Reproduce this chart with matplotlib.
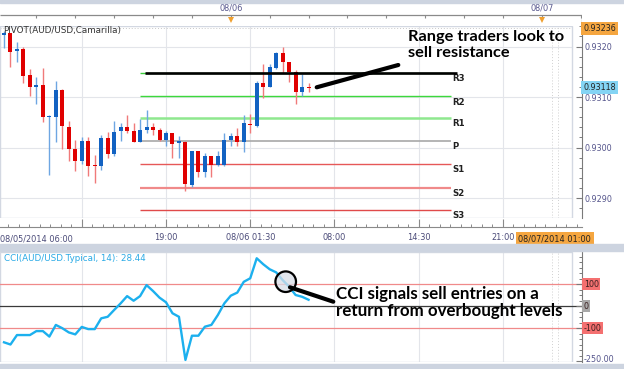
import numpy as np
import pandas as pd
import matplotlib
matplotlib.use("Agg")
import matplotlib.pyplot as plt
import matplotlib.dates as mdates
import matplotlib.transforms as mtransforms
from matplotlib.patches import Rectangle, Circle
from matplotlib.ticker import FixedLocator, MultipleLocator, NullFormatter

# ---------------- data ----------------
start_time = "2014-08-05 06:30"   # 30-minute candles
opens = [0.93223, 0.93226, 0.93191, 0.93196, 0.93144, 0.93119, 0.93124, 0.93061,
         0.93060, 0.93114, 0.93041, 0.92997, 0.92973, 0.93013, 0.92965, 0.92963,
         0.93018, 0.92987, 0.93032, 0.93040, 0.93033, 0.93011, 0.93034, 0.93040,
         0.93034, 0.93015, 0.93028, 0.93008, 0.93011, 0.92926, 0.92994, 0.92952,
         0.92983, 0.92965, 0.92965, 0.93015, 0.93023, 0.93010, 0.93047, 0.93043,
         0.93128, 0.93120, 0.93157, 0.93188, 0.93169, 0.93150, 0.93110, 0.93120]
highs = [0.93231, 0.93227, 0.93209, 0.93199, 0.93155, 0.93140, 0.93157, 0.93064,
         0.93132, 0.93116, 0.93052, 0.93015, 0.93021, 0.93021, 0.92985, 0.93025,
         0.93031, 0.93053, 0.93049, 0.93064, 0.93049, 0.93056, 0.93074, 0.93048,
         0.93038, 0.93033, 0.93029, 0.93023, 0.93012, 0.92994, 0.92994, 0.92989,
         0.92983, 0.92994, 0.93028, 0.93028, 0.93038, 0.93064, 0.93067, 0.93132,
         0.93166, 0.93166, 0.93190, 0.93200, 0.93170, 0.93153, 0.93146, 0.93127]
lows = [0.93197, 0.93159, 0.93169, 0.93128, 0.93102, 0.93086, 0.93051, 0.92946,
        0.93011, 0.92997, 0.92973, 0.92953, 0.92967, 0.92944, 0.92930, 0.92955,
        0.92979, 0.92983, 0.93012, 0.93028, 0.93011, 0.93010, 0.93028, 0.93025,
        0.93012, 0.93002, 0.92979, 0.92979, 0.92913, 0.92921, 0.92941, 0.92942,
        0.92942, 0.92964, 0.92964, 0.93002, 0.93002, 0.92992, 0.93028, 0.93041,
        0.93098, 0.93119, 0.93156, 0.93148, 0.93130, 0.93087, 0.93101, 0.93110]
closes = [0.93226, 0.93189, 0.93196, 0.93142, 0.93120, 0.93124, 0.93061, 0.93063,
          0.93114, 0.93043, 0.92997, 0.92973, 0.93013, 0.92963, 0.92963, 0.93018,
          0.92987, 0.93031, 0.93040, 0.93032, 0.93011, 0.93034, 0.93040, 0.93034,
          0.93014, 0.93028, 0.93007, 0.93012, 0.92928, 0.92994, 0.92952, 0.92983,
          0.92965, 0.92983, 0.93015, 0.93023, 0.93010, 0.93048, 0.93044, 0.93128,
          0.93119, 0.93160, 0.93188, 0.93169, 0.93150, 0.93110, 0.93120, 0.93118]
cci = [-165, -175, -132, -132, -132, -114, -114, -139,
       -86, -101, -120, -129, -95, -105, -105, -56,
       -49, -18, 12, 45, 24, 45, 95, 68,
       38, 17, -33, -49, -245, -135, -135, -94,
       -86, -41, 12, 47, 61, 110, 126, 217,
       190, 167, 153, 118, 88, 50, 42, 28.44]

pivot_names = ["R3", "R2", "R1", "P", "S1", "S2", "S3"]
pivot_values = [0.93147, 0.93101, 0.93058, 0.93012, 0.92967, 0.92920, 0.92876]
pivot_start = "2014-08-05 17:00"
pivot_end = "2014-08-06 17:00"

price_ticks = [0.9290, 0.9300, 0.9310, 0.9320]
time_tick_times = ["2014-08-05 06:00", "2014-08-05 12:30", "2014-08-05 19:00",
                   "2014-08-06 01:30", "2014-08-06 08:00", "2014-08-06 14:30",
                   "2014-08-06 21:00"]
time_tick_labels = ["08/05/2014 06:00", "", "19:00", "08/06 01:30", "08:00",
                    "14:30", "21:00"]
day_times = ["2014-08-06 00:00", "2014-08-07 00:00"]
day_labels = ["08/06", "08/07"]
last_price = 0.93118
cursor_price = 0.93236
cursor_time = "2014-08-07 01:00"
cursor_label = "08/07/2014 01:00"
cci_levels = [100, 0, -100]
cci_level_labels = ["100", "0", "-100"]
cci_min = -250
cci_min_label = "-250.00"

pivot_title = "PIVOT(AUD/USD,Camarilla)"
cci_title = "CCI(AUD/USD.Typical, 14): 28.44"
note_top = "Range traders look to\nsell resistance"
note_bottom = "CCI signals sell entries on a\nreturn from overbought levels"

# ---------------- layout helpers ----------------
W, H = 624, 369
fig = plt.figure(figsize=(W / 100, H / 100), dpi=100)
fig.patch.set_facecolor("white")


def rect(x0, y0, x1, y1):
    return [x0 / W, 1 - y1 / H, (x1 - x0) / W, (y1 - y0) / H]


def tnum(s):
    return mdates.date2num(pd.Timestamp(s))


XL = tnum("2014-08-05 06:11:28")
XR = tnum("2014-08-07 03:04:34")
PX_DAY = 581.7 / (XR - XL)          # pixels per day
FRAME_FRAC = 572 / 581.7

times = pd.date_range(start_time, periods=len(opens), freq="30min")
xs = mdates.date2num(times.to_pydatetime())

UP_BODY, DN_BODY = "#1262c2", "#e00000"
UP_WICK, DN_WICK = "#6ea6e2", "#f07a7a"
GRID = "#e3e5ea"
AXIS_TXT = "#55558c"
grid_x = [tnum(t) for t in time_tick_times]

# ---------------- background bands ----------------
for (y0, y1) in [(0, 3), (244, 251), (364, 369)]:
    fig.patches.append(Rectangle((0, 1 - y1 / H), 1, (y1 - y0) / H,
                                 transform=fig.transFigure, color="#cdd4e0",
                                 zorder=0))

# ---------------- main price panel ----------------
ax = fig.add_axes(rect(0, 26, 581.7, 218))
ax.set_xlim(XL, XR)
ax.set_ylim(0.928604, 0.932406)
for s in ["left", "top"]:
    ax.spines[s].set_visible(False)
ax.spines["right"].set_color("#7a7a7a")
ax.spines["bottom"].set_position(("outward", 6.5))
ax.spines["bottom"].set_color("#8a8a8a")

ax.xaxis.set_major_locator(FixedLocator(grid_x))
ax.set_xticklabels(time_tick_labels)
ax.xaxis.set_minor_locator(FixedLocator(
    np.arange(grid_x[0], XR, 48.75 / 1440)))
ax.tick_params(axis="x", which="major", direction="in", length=6, width=0.8,
               color="#8a8a8a", labelsize=5.9, labelcolor="#4a4a78", pad=4)
ax.tick_params(axis="x", which="minor", direction="in", length=2.2, width=0.7,
               color="#8a8a8a")
ax.text(0.0, -0.107, time_tick_labels[0], transform=ax.transAxes, ha="left",
        va="center", fontsize=5.9, color="#4a4a78", clip_on=False)

ax.yaxis.tick_right()
ax.yaxis.set_major_locator(FixedLocator(price_ticks))
ax.yaxis.set_major_formatter(matplotlib.ticker.FormatStrFormatter("%.4f"))
ax.yaxis.set_minor_locator(MultipleLocator(0.0002))
ax.tick_params(axis="y", which="major", direction="in", length=4, width=0.8,
               color="#7a7a7a", labelsize=5.8, labelcolor=AXIS_TXT, pad=2)
ax.tick_params(axis="y", which="minor", direction="in", length=2.5, width=0.7,
               color="#7a7a7a")

for p in price_ticks:
    ax.axhline(p, xmax=FRAME_FRAC, color=GRID, lw=0.8, zorder=0)
for g in grid_x:
    ax.axvline(g, color=GRID, lw=0.8, zorder=0)
ax.add_patch(Rectangle((0, 0), FRAME_FRAC, 1, transform=ax.transAxes,
                       fill=False, edgecolor="#d3d8e2", lw=1, zorder=1))

# cursor (crosshair) lines
ax.axhline(cursor_price, xmax=FRAME_FRAC, color="#c8c8c8", lw=0.7,
           ls=(0, (1, 2)), zorder=0)
ct = tnum(cursor_time)
for off in (-3, 3):
    ax.axvline(ct + off / PX_DAY, color="#d0d0d0", lw=0.7, ls=(0, (1, 2)),
               zorder=0)

# pivot lines
pivot_colors = ["#3ccc3c", "#3cd83c", "#8fe88f", "#a8a8a8", "#e65858",
                "#f08a8a", "#e04a4a"]
pivot_widths = [1.0, 1.0, 1.8, 1.2, 1.0, 1.6, 1.0]
ps, pe = tnum(pivot_start), tnum(pivot_end)
for v, c, w, n in zip(pivot_values, pivot_colors, pivot_widths, pivot_names):
    ax.hlines(v, ps, pe, colors=c, lw=w, zorder=2)
    ax.text(pe + 1 / PX_DAY, v - 0.00002, n, ha="left", va="top",
            fontsize=6.2, fontweight="bold", color="#202020", clip_on=True)
# drawn resistance line over R3
ax.hlines(pivot_values[0], ps + 5 / PX_DAY, pe + 6 / PX_DAY, colors="black",
          lw=1.9, zorder=5)

# candles
bw = 4.0 / PX_DAY
for x, o, h, l, c in zip(xs, opens, highs, lows, closes):
    up = c >= o
    ax.vlines(x, l, h, color=UP_WICK if up else DN_WICK, lw=1.0, zorder=3)
    height = max(abs(c - o), 0.000022)
    ax.bar(x, height, bottom=min(o, c), width=bw,
           color=UP_BODY if up else DN_BODY, zorder=4, linewidth=0)

btrans = mtransforms.blended_transform_factory(ax.transAxes, ax.transData)
ax.text(1.0 + 1.5 / 581.7, cursor_price, f"{cursor_price:.5f}", transform=btrans,
        ha="left", va="center", fontsize=5.8, color="#222222", clip_on=False,
        bbox=dict(boxstyle="square,pad=0.25", fc="#f5a640", ec="none"))
ax.text(1.0 + 1.5 / 581.7, last_price, f"{last_price:.5f}", transform=btrans,
        ha="left", va="center", fontsize=5.8, color="#222222", clip_on=False,
        bbox=dict(boxstyle="square,pad=0.25", fc="#84d4f4", ec="none"))
xtrans = mtransforms.blended_transform_factory(ax.transData, ax.transAxes)
ax.text(ct, -0.107, cursor_label, transform=xtrans, ha="center", va="center",
        fontsize=5.9, color="#222222", clip_on=False,
        bbox=dict(boxstyle="square,pad=0.3", fc="#f5a640", ec="none"))

# ---------------- top time strip ----------------
tax = fig.add_axes(rect(0, 0, 581.7, 26))
tax.set_xlim(XL, XR)
tax.set_ylim(26, 0)
tax.axis("off")
tax.hlines(15, XL, XR, color="#8a8a8a", lw=0.9)
tax.vlines(XR, 15, 26, color="#8a8a8a", lw=0.9)
top_ticks = np.arange(tnum("2014-08-05 06:00"), XR, 3 / 24)
tax.vlines(top_ticks, 15, 18, color="#8a8a8a", lw=0.8)
for t, lab in zip(day_times, day_labels):
    tax.text(tnum(t), 8, lab, ha="center", va="center", fontsize=5.9,
             color=AXIS_TXT)
    tax.plot(tnum(t), 19.5, marker="v", color="#f0a030", markersize=5,
             markeredgewidth=0)

# ---------------- CCI panel ----------------
cx = fig.add_axes(rect(0, 252, 581.7, 362))
cx.set_xlim(XL, XR)
cx.set_ylim(-254.5, 245.5)
for s in ["left", "top", "bottom"]:
    cx.spines[s].set_visible(False)
cx.spines["right"].set_color("#7a7a7a")
cx.tick_params(axis="x", which="both", bottom=False, labelbottom=False)
cx.yaxis.tick_right()
cx.yaxis.set_major_locator(FixedLocator(cci_levels + [cci_min]))
cx.yaxis.set_minor_locator(MultipleLocator(25))
cx.yaxis.set_major_formatter(NullFormatter())
cx.tick_params(axis="y", which="major", direction="in", length=4, width=0.8,
               color="#7a7a7a")
cx.tick_params(axis="y", which="minor", direction="in", length=2.5, width=0.7,
               color="#7a7a7a")
for g in grid_x:
    cx.axvline(g, color=GRID, lw=0.8, zorder=0)
for off in (-3, 3):
    cx.axvline(ct + off / PX_DAY, color="#d0d0d0", lw=0.7, ls=(0, (1, 2)),
               zorder=0)
cx.add_patch(Rectangle((0, 0), FRAME_FRAC, 1, transform=cx.transAxes,
                       fill=False, edgecolor="#d3d8e2", lw=1, zorder=1))
for lvl in cci_levels:
    cx.axhline(lvl, color="#3a3a3a" if lvl == 0 else "#f08a8a", lw=0.9,
               zorder=1)
cx.plot(xs, cci, color="#1cb0ee", lw=1.7, zorder=3)

ctrans = mtransforms.blended_transform_factory(cx.transAxes, cx.transData)
for lvl, lab in zip(cci_levels, cci_level_labels):
    cx.text(1.0 + 2 / 581.7, lvl, lab, transform=ctrans, ha="left",
            va="center", fontsize=5.8, color="#3a2020", clip_on=False,
            bbox=dict(boxstyle="square,pad=0.15",
                      fc="#a8a8a8" if lvl == 0 else "#f47070", ec="none"))
cx.text(1.0 + 2 / 581.7, cci_min + 6, cci_min_label, transform=ctrans,
        ha="left", va="center", fontsize=5.8, color=AXIS_TXT, clip_on=False,
        zorder=10)

# ---------------- overlay annotations (pixel coordinates) ----------------
ov = fig.add_axes([0, 0, 1, 1])
ov.set_xlim(0, W)
ov.set_ylim(H, 0)
ov.axis("off")
ov.patch.set_alpha(0)

ov.text(3, 31, pivot_title, ha="left", va="center", fontsize=6.3,
        color="#333333")
ov.text(4, 258.5, cci_title, ha="left", va="center", fontsize=6.3,
        color="#2aaae6")

ov.plot([316.7, 398.3], [87.3, 65.0], color="black", lw=3.0,
        solid_capstyle="round")
ov.text(408, 29.5, note_top, ha="left", va="top", fontsize=11.8,
        fontfamily="Lato", fontweight="bold", color="black", linespacing=1.2)

ov.add_patch(Circle((285.7, 281.7), 10.3, facecolor="#d9dee8", alpha=0.75,
                    edgecolor="none"))
ov.add_patch(Circle((285.7, 281.7), 10.3, fill=False, edgecolor="black",
                    lw=1.6))
ov.plot([290.0, 333.3], [287.3, 301.7], color="black", lw=3.0,
        solid_capstyle="round")
ov.text(336, 285.5, note_bottom, ha="left", va="top", fontsize=12.2,
        fontfamily="Lato", fontweight="bold", color="black", linespacing=1.15)

fig.savefig("out.png", dpi=100)
